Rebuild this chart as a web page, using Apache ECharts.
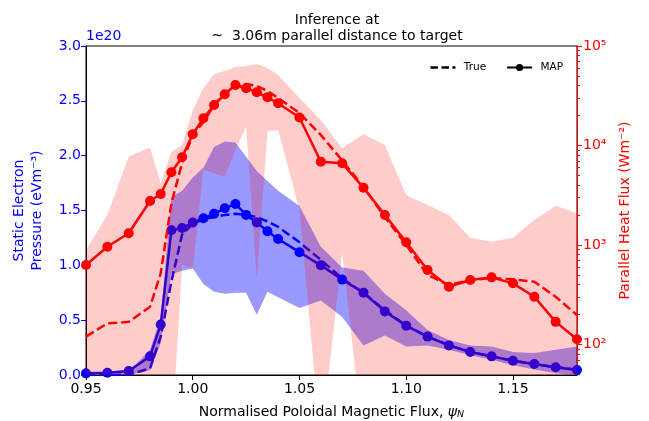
<!DOCTYPE html>
<html>
<head>
<meta charset="utf-8">
<script src="https://cdn.jsdelivr.net/npm/echarts@6/dist/echarts.min.js"></script>
<style>
  html, body { margin: 0; padding: 0; background: #fff; }
  #chart { width: 649px; height: 421px; }
</style>
</head>
<body>
<div id="chart"></div>
<script>
// normalised poloidal flux
var xs = [0.95, 0.96, 0.97, 0.98, 0.985, 0.99, 0.995, 1.00, 1.005, 1.01, 1.015, 1.02, 1.025, 1.03, 1.035,
  1.04, 1.05, 1.06, 1.07, 1.08, 1.09, 1.10, 1.11, 1.12, 1.13, 1.14, 1.15, 1.16, 1.17, 1.18];

// static electron pressure, in units of 1e20
var pressureMap = [0.015, 0.02, 0.036, 0.17, 0.46, 1.32, 1.34, 1.39, 1.43, 1.47, 1.52, 1.56, 1.46, 1.39, 1.31,
  1.24, 1.12, 1.00, 0.87, 0.75, 0.58, 0.45, 0.35, 0.27, 0.21, 0.17, 0.13, 0.10, 0.07, 0.045];
var pressureTrue = [0.0, 0.0, 0.005, 0.06, 0.35, 0.85, 1.28, 1.38, 1.42, 1.44, 1.46, 1.47, 1.46, 1.44, 1.40,
  1.35, 1.21, 1.05, 0.88, 0.75, 0.59, 0.45, 0.35, 0.27, 0.21, 0.17, 0.13, 0.10, 0.07, 0.05];
var pressureLo = [0, 0, 0, 0.045, 0.29, 0.92, 0.95, 0.97, 0.83, 0.76, 0.74, 0.75, 0.75, 0.55, 0.76,
  0.71, 0.61, 0.68, 0.53, 0.27, 0.36, 0.26, 0.27, 0.23, 0.18, 0.14, 0.09, 0.05, 0.015, 0.0];
var pressureHi = [0.0, 0.005, 0.03, 0.23, 0.53, 1.62, 1.68, 1.80, 1.89, 2.08, 2.13, 2.12, 1.99, 1.86, 1.77,
  1.68, 1.54, 1.17, 0.98, 0.95, 0.74, 0.59, 0.41, 0.32, 0.27, 0.26, 0.21, 0.20, 0.23, 0.26];

// parallel heat flux, W m^-2
var heatMap = [630, 962, 1312, 2768, 3258, 5380, 7610, 12970, 18760, 25530, 32700, 40550, 37570, 34260, 30500,
  26550, 19100, 6870, 6620, 3770, 2003, 1064, 561, 381, 445, 473, 412, 302, 169, 113];
var heatTrue = [120, 163, 169, 240, 520, 2620, 6670, 12760, 17200, 25500, 33700, 39600, 41500, 39600, 35300,
  30000, 21200, 12760, 7080, 3830, 1910, 1000, 500, 396, 445, 466, 452, 428, 302, 198];
var heatLo = [10, 10, 10, 10, 10, 10, 630, 590, 5680, 5300, 4850, 9010, 15350, 445, 14000,
  14300, 2250, 10, 832, 10, 10, 10, 10, 10, 10, 10, 10, 10, 10, 10];
var heatHi = [891, 2004, 7710, 9590, 4170, 8670, 10100, 22750, 37840, 52360, 56100, 61520, 62950, 65900, 60100,
  51100, 30000, 18030, 9380, 12970, 10100, 3180, 2520, 2000, 1183, 1080, 1183, 1783, 2485, 2084];

var heatAxisMin = 49.4;
var heatAxisMax = 100000;
var heatDecades = [2, 3, 4, 5];

var font = "DejaVu Sans";
var BLUE = "#0000ff";
var RED = "#ff0000";
var FS = 14;

function pairs(ys) {
  return xs.map(function (x, i) { return [x, ys[i]]; });
}
// the heat flux axis is logarithmic: plot log10 of the values on a linear axis
function logPairs(ys) {
  return xs.map(function (x, i) { return [x, Math.log10(ys[i])]; });
}

// fill_between style band, one polygon through the axis scales
function bandSeries(lo, hi, yAxisIndex, fill, z) {
  return {
    type: "custom",
    yAxisIndex: yAxisIndex,
    z: z,
    silent: true,
    data: xs.map(function (x, i) { return [x, lo[i], hi[i]]; }),
    encode: { x: 0, y: [1, 2] },
    renderItem: function (params, api) {
      if (params.dataIndex !== 0) return null;
      var top = [], bottom = [];
      for (var i = 0; i < xs.length; i++) {
        top.push(api.coord([xs[i], hi[i]]));
        bottom.push(api.coord([xs[i], lo[i]]));
      }
      var cs = params.coordSys;
      return {
        type: "polygon",
        shape: { points: top.concat(bottom.reverse()) },
        style: { fill: fill },
        clipPath: { type: "rect", shape: { x: cs.x, y: cs.y, width: cs.width, height: cs.height } },
      };
    },
  };
}

var minorTicks = [];
for (var d = 1; d < 5; d++) {
  for (var k = 2; k < 10; k++) {
    var v = Math.log10(k * Math.pow(10, d));
    if (v >= Math.log10(heatAxisMin)) minorTicks.push(v);
  }
}
var sup = { 2: "\u00b2", 3: "\u00b3", 4: "\u2074", 5: "\u2075" };

var myChart = echarts.init(document.getElementById("chart"));
var option = {
  animation: false,
  textStyle: { fontFamily: font },
  title: {
    text: "Inference at\n~  3.06m parallel distance to target",
    left: 332,
    top: 7,
    textAlign: "center",
    textStyle: { fontFamily: font, fontSize: FS, fontWeight: "normal", color: "#000", lineHeight: 16.5 },
  },
  legend: {
    data: [
      { name: "True", icon: "path://M0,0H7.5V2.5H0Z M11,0H18.5V2.5H11Z M22,0H25V2.5H22Z" },
      { name: "MAP" },
    ],
    top: 57,
    right: 81,
    itemWidth: 25,
    itemHeight: 9,
    itemGap: 20,
    formatter: function (name) { return " " + name; },
    textStyle: { fontFamily: font, fontSize: 10.5, color: "#000" },
  },
  grid: {
    left: 86,
    right: 72,
    top: 46,
    bottom: 46,
    show: true,
    borderColor: "#000",
    borderWidth: 1,
    containLabel: false,
    outerBoundsMode: "none",
  },
  graphic: [
    {
      type: "text",
      left: 86,
      top: 29,
      style: { text: "1e20", fill: BLUE, font: FS + "px DejaVu Sans" },
    },
  ],
  xAxis: {
    type: "value",
    min: 0.95,
    max: 1.18,
    interval: 0.05,
    name: "Normalised Poloidal Magnetic Flux, {i|\u03c8}{s|N}",
    nameLocation: "middle",
    nameGap: 29,
    nameTextStyle: {
      fontFamily: font, fontSize: FS, color: "#000",
      rich: {
        i: { fontFamily: font, fontSize: FS, fontStyle: "italic", color: "#000" },
        s: { fontFamily: font, fontSize: 9.5, fontStyle: "italic", color: "#000", verticalAlign: "bottom", padding: [6, 0, 0, 0] },
      },
    },
    axisLine: { lineStyle: { color: "#000", width: 1 } },
    axisTick: { length: 5, lineStyle: { color: "#000" } },
    axisLabel: {
      color: "#000",
      fontSize: FS,
      margin: 7,
      showMaxLabel: false,
      formatter: function (v) { return v.toFixed(2); },
    },
    splitLine: { show: false },
  },
  yAxis: [
    {
      type: "value",
      position: "left",
      min: 0,
      max: 3,
      interval: 0.5,
      name: "Static Electron\nPressure (eVm\u207b\u00b3)",
      nameLocation: "middle",
      nameGap: 39,
      nameTextStyle: { fontFamily: font, fontSize: FS, color: BLUE, lineHeight: 18.5 },
      axisLine: { show: true, lineStyle: { color: "#000" } },
      axisTick: { show: true, length: 5, lineStyle: { color: BLUE } },
      axisLabel: { color: BLUE, fontSize: FS, margin: 5, formatter: function (v) { return v.toFixed(1); } },
      splitLine: { show: false },
    },
    {
      type: "value",
      position: "right",
      min: Math.log10(heatAxisMin),
      max: Math.log10(heatAxisMax),
      name: "Parallel Heat Flux (Wm\u207b\u00b2)",
      nameLocation: "middle",
      nameGap: 41,
      nameRotate: 90,
      nameTextStyle: { fontFamily: font, fontSize: FS, color: RED },
      axisLine: { show: true, lineStyle: { color: RED } },
      axisTick: { show: true, length: 5, customValues: heatDecades, lineStyle: { color: RED } },
      axisLabel: {
        color: RED,
        fontSize: FS,
        margin: 6,
        customValues: heatDecades,
        formatter: function (v) { return "10" + sup[Math.round(v)]; },
      },
      splitLine: { show: false },
    },
    {
      type: "value",
      position: "right",
      min: Math.log10(heatAxisMin),
      max: Math.log10(heatAxisMax),
      axisLine: { show: false },
      axisTick: { show: true, length: 3, customValues: minorTicks, lineStyle: { color: RED } },
      axisLabel: { show: false },
      splitLine: { show: false },
    },
  ],
  series: [
    bandSeries(pressureLo, pressureHi, 0, "rgba(0,0,255,0.4)", 2),
    {
      name: "pTrue", type: "line", yAxisIndex: 0, z: 2, data: pairs(pressureTrue),
      symbol: "none", lineStyle: { color: BLUE, width: 2.5, type: [9, 4] },
    },
    {
      name: "pMap", type: "line", yAxisIndex: 0, z: 2, data: pairs(pressureMap),
      symbol: "circle", symbolSize: 10, itemStyle: { color: BLUE },
      lineStyle: { color: BLUE, width: 2.5 },
    },
    // heat flux band is drawn over the pressure lines
    bandSeries(heatLo.map(Math.log10), heatHi.map(Math.log10), 1, "rgba(255,0,0,0.2)", 3),
    {
      name: "qTrue", type: "line", yAxisIndex: 1, z: 4, data: logPairs(heatTrue),
      symbol: "none", lineStyle: { color: RED, width: 2.5, type: [9, 4] },
    },
    {
      name: "qMap", type: "line", yAxisIndex: 1, z: 4, data: logPairs(heatMap),
      symbol: "circle", symbolSize: 10, itemStyle: { color: RED },
      lineStyle: { color: RED, width: 2.5 },
    },
    // legend entries
    {
      name: "True", type: "line", data: [], symbol: "none",
      itemStyle: { color: "#000" }, lineStyle: { color: "#000", width: 2.5, type: [9, 4] },
    },
    {
      name: "MAP", type: "line", data: [], symbol: "circle", symbolSize: 9,
      itemStyle: { color: "#000" }, lineStyle: { color: "#000", width: 2.5 },
    },
  ],
};
myChart.setOption(option, true);
window.addEventListener("resize", function () {
  myChart.resize();
});
</script>
</body>
</html>
